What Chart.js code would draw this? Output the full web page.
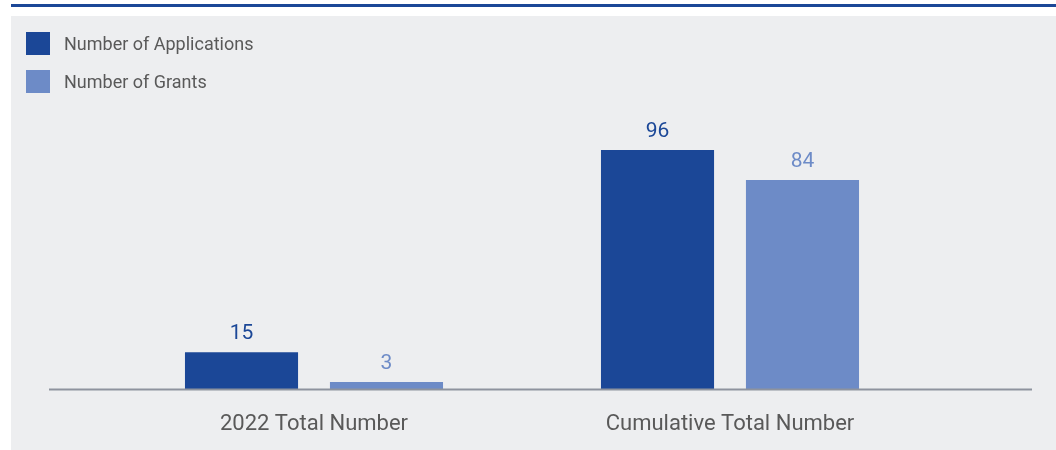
<!doctype html>
<html lang="en">

<head>
    <meta charset="utf-8">
    <title>Applications and Grants</title>
    <style>
        * {
            margin: 0;
            padding: 0;
            font-family: Roboto, sans-serif;
        }

        body {
            width: 1056px;
            height: 450px;
            background: #ffffff;
            position: relative;
            overflow: hidden;
        }

        .topLine {
            position: absolute;
            left: 11px;
            top: 4px;
            width: 1045px;
            height: 3px;
            background: #1b4797;
        }

        .chartCard {
            position: absolute;
            left: 11px;
            top: 16px;
            width: 1045px;
            height: 434px;
            background: #edeef0;
        }

        .legend {
            position: absolute;
            left: 15px;
            top: 15px;
        }

        .legend div {
            display: flex;
            align-items: center;
            height: 24px;
            margin-bottom: 14px;
            font-size: 18px;
            color: #595959;
        }

        .legend span {
            display: inline-block;
            width: 24px;
            height: 23px;
            margin-right: 14px;
        }
    </style>
</head>

<body>
    <div class="topLine"></div>
    <div class="chartCard">
        <canvas id="myChart" width="1045" height="434"></canvas>
        <div class="legend" id="legend"></div>
    </div>

    <script src="https://cdn.jsdelivr.net/npm/chart.js"></script>

    <script>
        // data
        const categories = ['2022 Total Number', 'Cumulative Total Number'];
        const applications = [15, 96];
        const grants = [3, 84];
        const seriesNames = ['Number of Applications', 'Number of Grants'];
        const seriesColors = ['#1b4797', '#6d8bc7'];

        // value labels above each bar
        const valueLabels = {
            id: 'valueLabels',
            afterDatasetsDraw(chart) {
                const ctx = chart.ctx;
                ctx.save();
                ctx.font = '21px Roboto, sans-serif';
                ctx.textAlign = 'center';
                ctx.textBaseline = 'middle';
                chart.data.datasets.forEach((ds, i) => {
                    chart.getDatasetMeta(i).data.forEach((bar, j) => {
                        ctx.fillStyle = ds.backgroundColor;
                        ctx.fillText(ds.data[j], bar.x, bar.y - 18);
                    });
                });
                ctx.restore();
            }
        };

        // baseline that runs wider than the plot area
        const baseLine = {
            id: 'baseLine',
            afterDatasetsDraw(chart) {
                const ctx = chart.ctx;
                const y = chart.scales.y.getPixelForValue(0);
                ctx.save();
                ctx.strokeStyle = '#8e939e';
                ctx.lineWidth = 2;
                ctx.beginPath();
                ctx.moveTo(38, y);
                ctx.lineTo(chart.width - 24, y);
                ctx.stroke();
                ctx.restore();
            }
        };

        const data = {
            labels: categories,
            datasets: [{
                label: seriesNames[0],
                data: applications,
                backgroundColor: seriesColors[0]
            }, {
                label: seriesNames[1],
                data: grants,
                backgroundColor: seriesColors[1]
            }]
        };

        const config = {
            type: 'bar',
            data,
            options: {
                responsive: false,
                animation: false,
                events: [],
                layout: {
                    padding: { left: 95, right: 118, top: 124, bottom: -10 }
                },
                datasets: {
                    bar: {
                        categoryPercentage: 0.697,
                        barPercentage: 0.78
                    }
                },
                scales: {
                    x: {
                        grid: { display: false, drawTicks: false },
                        border: { display: false },
                        ticks: {
                            padding: 22,
                            color: '#595959',
                            font: { size: 22, family: 'Roboto' }
                        }
                    },
                    y: {
                        display: false,
                        min: 0,
                        max: 100
                    }
                },
                plugins: {
                    legend: { display: false },
                    tooltip: { enabled: false }
                }
            },
            plugins: [valueLabels, baseLine]
        };

        const myChart = new Chart(document.getElementById('myChart'), config);

        // legend built from the chart's datasets
        const legendBox = document.getElementById('legend');
        myChart.data.datasets.forEach(ds => {
            const row = document.createElement('div');
            const box = document.createElement('span');
            box.style.background = ds.backgroundColor;
            row.appendChild(box);
            row.appendChild(document.createTextNode(ds.label));
            legendBox.appendChild(row);
        });
    </script>

</body>

</html>
